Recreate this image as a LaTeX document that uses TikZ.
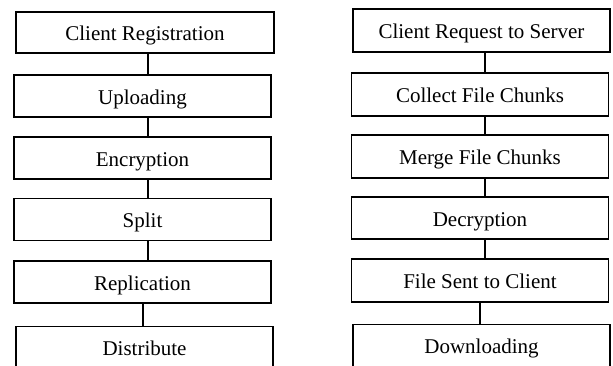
\documentclass[tikz,border=0pt]{standalone}
\usepackage{fontspec}
\setmainfont{Liberation Serif}
\begin{document}
\begin{tikzpicture}[x=1pt,y=-1pt,
  stepbox/.style={draw, line width=1.7pt, rectangle, minimum width=257pt, minimum height=42pt,
    inner sep=0pt, text height=18pt, text depth=2pt, font=\fontsize{21}{25}\selectfont},
  link/.style={line width=1.6pt}]
\useasboundingbox (0,0) rectangle (613,365);
\clip (0,0) rectangle (613,365);
% left column
\node[stepbox, minimum width=258pt, minimum height=41pt] (l1) at (145,32.5) {Client Registration};
\node[stepbox] (l2) at (142.5,96) {Uploading};
\node[stepbox] (l3) at (142.5,158) {Encryption};
\node[stepbox] (l4) at (142.5,219.5) {Split};
\node[stepbox] (l5) at (142.5,282) {Replication};
\node[stepbox] (l6) at (144.5,347.5) {Distribute};
\draw[link] ([xshift=3pt]l1.south) -- ([xshift=5.5pt]l2.north);
\draw[link] ([xshift=5.5pt]l2.south) -- ([xshift=5.5pt]l3.north);
\draw[link] ([xshift=5.5pt]l3.south) -- ([xshift=5.5pt]l4.north);
\draw[link] ([xshift=5.5pt]l4.south) -- ([xshift=5.5pt]l5.north);
\draw[link] ([xshift=0.5pt]l5.south) -- ([xshift=-1.5pt]l6.north);
% right column
\node[stepbox, minimum height=43pt] (r1) at (481.5,30.5) {Client Request to Server};
\node[stepbox, minimum height=43pt] (r2) at (480,94.5) {Collect File Chunks};
\node[stepbox, minimum height=43pt] (r3) at (480,156.5) {Merge File Chunks};
\node[stepbox] (r4) at (480,218) {Decryption};
\node[stepbox, minimum height=43pt] (r5) at (480,280.5) {File Sent to Client};
\node[stepbox] (r6) at (481.5,345.5) {Downloading};
\draw[link] ([xshift=3.5pt]r1.south) -- ([xshift=5pt]r2.north);
\draw[link] ([xshift=5pt]r2.south) -- ([xshift=5pt]r3.north);
\draw[link] ([xshift=5pt]r3.south) -- ([xshift=5pt]r4.north);
\draw[link] ([xshift=5pt]r4.south) -- ([xshift=5pt]r5.north);
\draw[link] ([xshift=0pt]r5.south) -- ([xshift=-1.5pt]r6.north);
\end{tikzpicture}
\end{document}
